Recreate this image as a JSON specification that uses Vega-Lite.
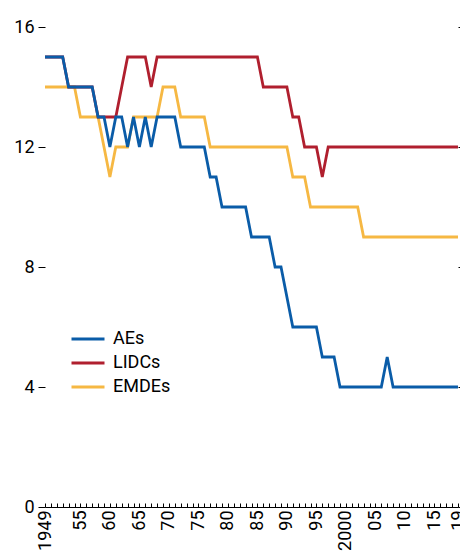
{
  "$schema": "https://vega.github.io/schema/vega-lite/v6.json",
  "width": 413,
  "height": 480,
  "autosize": "none",
  "padding": {"left": 45, "top": 27, "right": 2, "bottom": 45},
  "background": "white",
  "config": {
    "view": {"stroke": null},
    "font": "Roboto",
    "axis": {"grid": false, "labelColor": "black", "tickColor": "black", "domainColor": "black"}
  },
  "data": {
    "values": [
      {"year": 1949, "AEs": 15, "LIDCs": 15, "EMDEs": 14},
      {"year": 1950, "AEs": 15, "LIDCs": 15, "EMDEs": 14},
      {"year": 1951, "AEs": 15, "LIDCs": 15, "EMDEs": 14},
      {"year": 1952, "AEs": 15, "LIDCs": 15, "EMDEs": 14},
      {"year": 1953, "AEs": 14, "LIDCs": 14, "EMDEs": 14},
      {"year": 1954, "AEs": 14, "LIDCs": 14, "EMDEs": 14},
      {"year": 1955, "AEs": 14, "LIDCs": 14, "EMDEs": 13},
      {"year": 1956, "AEs": 14, "LIDCs": 14, "EMDEs": 13},
      {"year": 1957, "AEs": 14, "LIDCs": 14, "EMDEs": 13},
      {"year": 1958, "AEs": 13, "LIDCs": 13, "EMDEs": 13},
      {"year": 1959, "AEs": 13, "LIDCs": 13, "EMDEs": 12},
      {"year": 1960, "AEs": 12, "LIDCs": 13, "EMDEs": 11},
      {"year": 1961, "AEs": 13, "LIDCs": 13, "EMDEs": 12},
      {"year": 1962, "AEs": 13, "LIDCs": 14, "EMDEs": 12},
      {"year": 1963, "AEs": 12, "LIDCs": 15, "EMDEs": 12},
      {"year": 1964, "AEs": 13, "LIDCs": 15, "EMDEs": 13},
      {"year": 1965, "AEs": 12, "LIDCs": 15, "EMDEs": 13},
      {"year": 1966, "AEs": 13, "LIDCs": 15, "EMDEs": 13},
      {"year": 1967, "AEs": 12, "LIDCs": 14, "EMDEs": 13},
      {"year": 1968, "AEs": 13, "LIDCs": 15, "EMDEs": 13},
      {"year": 1969, "AEs": 13, "LIDCs": 15, "EMDEs": 14},
      {"year": 1970, "AEs": 13, "LIDCs": 15, "EMDEs": 14},
      {"year": 1971, "AEs": 13, "LIDCs": 15, "EMDEs": 14},
      {"year": 1972, "AEs": 12, "LIDCs": 15, "EMDEs": 13},
      {"year": 1973, "AEs": 12, "LIDCs": 15, "EMDEs": 13},
      {"year": 1974, "AEs": 12, "LIDCs": 15, "EMDEs": 13},
      {"year": 1975, "AEs": 12, "LIDCs": 15, "EMDEs": 13},
      {"year": 1976, "AEs": 12, "LIDCs": 15, "EMDEs": 13},
      {"year": 1977, "AEs": 11, "LIDCs": 15, "EMDEs": 12},
      {"year": 1978, "AEs": 11, "LIDCs": 15, "EMDEs": 12},
      {"year": 1979, "AEs": 10, "LIDCs": 15, "EMDEs": 12},
      {"year": 1980, "AEs": 10, "LIDCs": 15, "EMDEs": 12},
      {"year": 1981, "AEs": 10, "LIDCs": 15, "EMDEs": 12},
      {"year": 1982, "AEs": 10, "LIDCs": 15, "EMDEs": 12},
      {"year": 1983, "AEs": 10, "LIDCs": 15, "EMDEs": 12},
      {"year": 1984, "AEs": 9, "LIDCs": 15, "EMDEs": 12},
      {"year": 1985, "AEs": 9, "LIDCs": 15, "EMDEs": 12},
      {"year": 1986, "AEs": 9, "LIDCs": 14, "EMDEs": 12},
      {"year": 1987, "AEs": 9, "LIDCs": 14, "EMDEs": 12},
      {"year": 1988, "AEs": 8, "LIDCs": 14, "EMDEs": 12},
      {"year": 1989, "AEs": 8, "LIDCs": 14, "EMDEs": 12},
      {"year": 1990, "AEs": 7, "LIDCs": 14, "EMDEs": 12},
      {"year": 1991, "AEs": 6, "LIDCs": 13, "EMDEs": 11},
      {"year": 1992, "AEs": 6, "LIDCs": 13, "EMDEs": 11},
      {"year": 1993, "AEs": 6, "LIDCs": 12, "EMDEs": 11},
      {"year": 1994, "AEs": 6, "LIDCs": 12, "EMDEs": 10},
      {"year": 1995, "AEs": 6, "LIDCs": 12, "EMDEs": 10},
      {"year": 1996, "AEs": 5, "LIDCs": 11, "EMDEs": 10},
      {"year": 1997, "AEs": 5, "LIDCs": 12, "EMDEs": 10},
      {"year": 1998, "AEs": 5, "LIDCs": 12, "EMDEs": 10},
      {"year": 1999, "AEs": 4, "LIDCs": 12, "EMDEs": 10},
      {"year": 2000, "AEs": 4, "LIDCs": 12, "EMDEs": 10},
      {"year": 2001, "AEs": 4, "LIDCs": 12, "EMDEs": 10},
      {"year": 2002, "AEs": 4, "LIDCs": 12, "EMDEs": 10},
      {"year": 2003, "AEs": 4, "LIDCs": 12, "EMDEs": 9},
      {"year": 2004, "AEs": 4, "LIDCs": 12, "EMDEs": 9},
      {"year": 2005, "AEs": 4, "LIDCs": 12, "EMDEs": 9},
      {"year": 2006, "AEs": 4, "LIDCs": 12, "EMDEs": 9},
      {"year": 2007, "AEs": 5, "LIDCs": 12, "EMDEs": 9},
      {"year": 2008, "AEs": 4, "LIDCs": 12, "EMDEs": 9},
      {"year": 2009, "AEs": 4, "LIDCs": 12, "EMDEs": 9},
      {"year": 2010, "AEs": 4, "LIDCs": 12, "EMDEs": 9},
      {"year": 2011, "AEs": 4, "LIDCs": 12, "EMDEs": 9},
      {"year": 2012, "AEs": 4, "LIDCs": 12, "EMDEs": 9},
      {"year": 2013, "AEs": 4, "LIDCs": 12, "EMDEs": 9},
      {"year": 2014, "AEs": 4, "LIDCs": 12, "EMDEs": 9},
      {"year": 2015, "AEs": 4, "LIDCs": 12, "EMDEs": 9},
      {"year": 2016, "AEs": 4, "LIDCs": 12, "EMDEs": 9},
      {"year": 2017, "AEs": 4, "LIDCs": 12, "EMDEs": 9},
      {"year": 2018, "AEs": 4, "LIDCs": 12, "EMDEs": 9},
      {"year": 2019, "AEs": 4, "LIDCs": 12, "EMDEs": 9}
    ]
  },
  "transform": [{"fold": ["EMDEs", "LIDCs", "AEs"], "as": ["series", "value"]}],
  "layer": [
    {
      "mark": {"type": "line", "strokeWidth": 2.8, "strokeJoin": "miter"},
      "encoding": {
        "x": {
          "field": "year",
          "type": "quantitative",
          "scale": {"domain": [1949, 2019], "nice": false, "zero": false},
          "axis": {
            "title": null,
            "values": [1949,1950,1951,1952,1953,1954,1955,1956,1957,1958,1959,1960,1961,1962,1963,1964,1965,1966,1967,1968,1969,1970,1971,1972,1973,1974,1975,1976,1977,1978,1979,1980,1981,1982,1983,1984,1985,1986,1987,1988,1989,1990,1991,1992,1993,1994,1995,1996,1997,1998,1999,2000,2001,2002,2003,2004,2005,2006,2007,2008,2009,2010,2011,2012,2013,2014,2015,2016,2017,2018,2019],
            "format": "d",
            "labelExpr": "datum.value == 1949 || datum.value == 2000 ? datum.label : ((datum.value % 5 == 0 && datum.value != 1950) || datum.value == 2019) ? substring(datum.label, 2) : ''",
            "labelAngle": -90,
            "labelAlign": "right",
            "labelBaseline": "middle",
            "labelFontSize": 18,
            "labelPadding": 7,
            "labelOverlap": false,
            "labelFlush": false,
            "labelBound": false,
            "tickSize": -4,
            "domainWidth": 1
          }
        },
        "y": {
          "field": "value",
          "type": "quantitative",
          "scale": {"domain": [0, 16], "nice": false, "zero": true},
          "axis": {
            "title": null,
            "orient": "left",
            "values": [0, 4, 8, 12, 16],
            "domain": false,
            "tickSize": 7,
            "labelPadding": 4,
            "labelFontSize": 18
          }
        },
        "color": {
          "field": "series",
          "type": "nominal",
          "scale": {"domain": ["AEs", "LIDCs", "EMDEs"], "range": ["#0A5CA8", "#B01F2E", "#F6B843"]},
          "legend": {
            "title": null,
            "orient": "none",
            "legendX": 25,
            "legendY": 300,
            "direction": "vertical",
            "symbolType": "stroke",
            "symbolSize": 1089,
            "symbolStrokeWidth": 3,
            "labelFontSize": 18,
            "labelOffset": 7,
            "labelColor": "black",
            "clipHeight": 24,
            "rowPadding": 0
          }
        }
      }
    },
    {
      "mark": {"type": "point", "opacity": 0},
      "encoding": {
        "y": {
          "field": "value",
          "type": "quantitative",
          "axis": {"title": null, "orient": "right", "labels": false, "domain": false, "tickSize": 6, "values": [0, 4, 8, 12, 16]}
        }
      }
    }
  ],
  "resolve": {"axis": {"y": "independent"}}
}
